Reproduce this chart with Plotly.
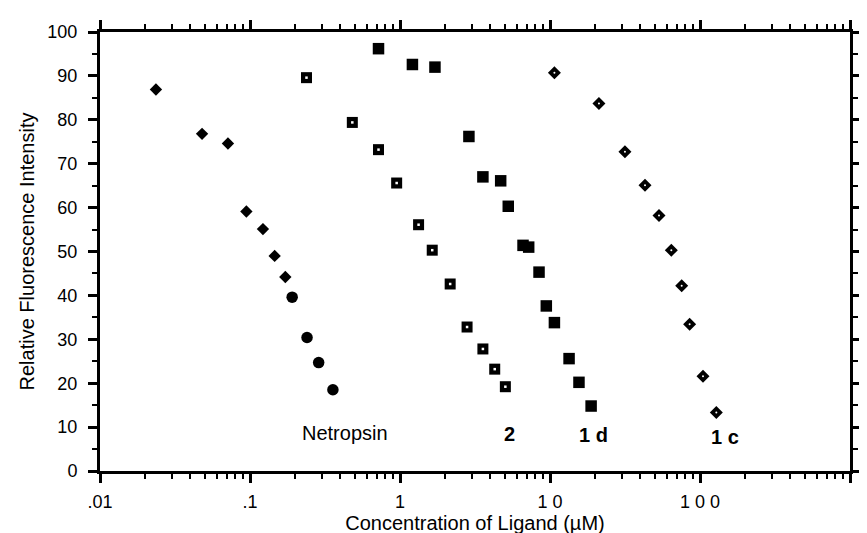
import numpy as np
import plotly.graph_objects as go

# ---- data ----
netropsin_diamond_x = [0.0236, 0.0479, 0.0713, 0.0946, 0.122, 0.146, 0.172]
netropsin_diamond_y = [86.9, 76.8, 74.6, 59.1, 55.1, 49.0, 44.2]
netropsin_circle_x = [0.191, 0.240, 0.287, 0.357]
netropsin_circle_y = [39.6, 30.4, 24.7, 18.5]

cmpd2_x = [0.238, 0.481, 0.719, 0.95, 1.33, 1.64, 2.16, 2.80, 3.57, 4.28, 5.04]
cmpd2_y = [89.6, 79.4, 73.2, 65.6, 56.1, 50.3, 42.6, 32.8, 27.8, 23.2, 19.2]

cmpd1d_x = [0.719, 1.21, 1.71, 2.88, 3.57, 4.69, 5.27, 6.61, 7.21, 8.45, 9.45, 10.7, 13.4, 15.6, 18.8]
cmpd1d_y = [96.2, 92.6, 92.0, 76.2, 67.0, 66.1, 60.3, 51.4, 51.0, 45.3, 37.6, 33.8, 25.6, 20.2, 14.8]

cmpd1c_x = [10.7, 21.2, 31.6, 43.0, 53.3, 64.4, 75.5, 85.3, 104.7, 128.5]
cmpd1c_y = [90.7, 83.7, 72.7, 65.1, 58.2, 50.3, 42.2, 33.4, 21.6, 13.3]

label_texts = ["Netropsin", "<b>2</b>", "<b>1 d</b>", "<b>1 c</b>"]
label_x = [0.43, 5.33, 19.4, 147.0]
label_y = [8.6, 8.5, 8.2, 7.7]

x_tickvals = [0.01, 0.1, 1, 10, 100, 1000]
x_ticktext = [".01", ".1", "1", "1 0", "1 0 0", "1 0 0 0"]
y_tickvals = list(range(0, 101, 10))

FONT = "Liberation Sans, Arial, Helvetica, sans-serif"

fig = go.Figure()
fig.add_trace(go.Scatter(x=netropsin_diamond_x, y=netropsin_diamond_y, mode="markers",
                         marker=dict(symbol="diamond", size=9.5, color="black")))
fig.add_trace(go.Scatter(x=netropsin_circle_x, y=netropsin_circle_y, mode="markers",
                         marker=dict(symbol="circle", size=11.5, color="black")))
fig.add_trace(go.Scatter(x=cmpd2_x, y=cmpd2_y, mode="markers",
                         marker=dict(symbol="square", size=11, color="black")))
fig.add_trace(go.Scatter(x=cmpd2_x, y=cmpd2_y, mode="markers",
                         marker=dict(symbol="square", size=2.5, color="white")))
fig.add_trace(go.Scatter(x=cmpd1d_x, y=cmpd1d_y, mode="markers",
                         marker=dict(symbol="square", size=11.5, color="black")))
fig.add_trace(go.Scatter(x=cmpd1c_x, y=cmpd1c_y, mode="markers",
                         marker=dict(symbol="diamond", size=10, color="black")))
fig.add_trace(go.Scatter(x=cmpd1c_x, y=cmpd1c_y, mode="markers",
                         marker=dict(symbol="circle", size=2, color="white")))

for t, lx, ly in zip(label_texts, label_x, label_y):
    fig.add_annotation(x=np.log10(lx), y=ly, text=t, showarrow=False,
                       font=dict(family=FONT, size=20, color="black"),
                       xanchor="center", yanchor="middle")

minor_x = [m * 10.0 ** d for d in range(-2, 3) for m in range(2, 10)]

fig.update_xaxes(type="log", range=[-2, 3],
                 tickmode="array", tickvals=x_tickvals, ticktext=x_ticktext,
                 ticks="outside", ticklen=9, tickwidth=2.5, tickcolor="black",
                 minor=dict(tickmode="array", tickvals=minor_x, ticks="outside",
                            ticklen=5, tickwidth=2, tickcolor="black", showgrid=False),
                 showline=True, linewidth=3, linecolor="black", mirror="allticks",
                 showgrid=False, zeroline=False, ticklabelstandoff=3,
                 tickfont=dict(family=FONT, size=18, color="black"),
                 title=dict(text="Concentration of Ligand (µM)", standoff=3,
                            font=dict(family=FONT, size=20, color="black")))
fig.update_yaxes(range=[0, 100], tickmode="array", tickvals=y_tickvals,
                 ticks="outside", ticklen=9, tickwidth=2.5, tickcolor="black",
                 minor=dict(dtick=5, ticks="outside", ticklen=5, tickwidth=2,
                            tickcolor="black", showgrid=False),
                 showline=True, linewidth=3, linecolor="black", mirror="allticks",
                 showgrid=False, zeroline=False, ticklabelstandoff=7,
                 tickfont=dict(family=FONT, size=18, color="black"),
                 title=dict(text="Relative Fluorescence Intensity", standoff=8,
                            font=dict(family=FONT, size=20, color="black")))

fig.update_layout(width=867, height=533, showlegend=False,
                  margin=dict(l=92, r=25, t=24, b=56),
                  paper_bgcolor="white", plot_bgcolor="white")

fig.write_html("out.html")
